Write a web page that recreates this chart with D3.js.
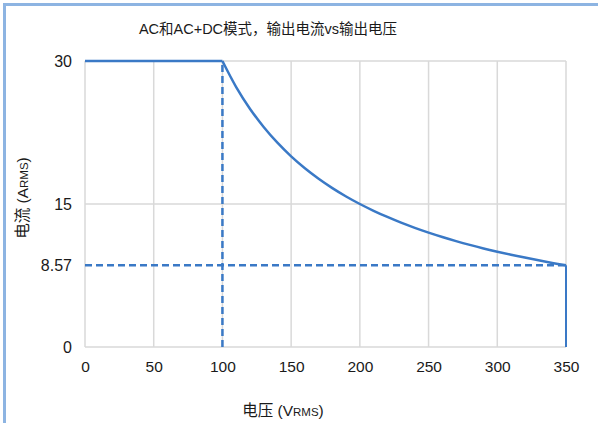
<!DOCTYPE html>
<html><head><meta charset="utf-8">
<script src="https://cdn.jsdelivr.net/npm/d3@7"></script>
<style>body{margin:0;background:#fff}svg{display:block}</style>
</head><body><svg id="c" width="598" height="423"></svg>
<script>
const title = "AC和AC+DC模式，输出电流vs输出电压";
const xTicks = [0, 50, 100, 150, 200, 250, 300, 350];
const yTicks = [0, 8.57, 15, 30];
const yGrid = [15, 30];
// constant-current section
const flatV = [0, 100];
const flatI = [30, 30];
// constant-power section
const curveV = [100,110,120,130,140,150,160,170,180,190,200,210,220,230,240,250,260,270,280,290,300,310,320,330,340,350];
const curveI = [30,27.27,25,23.08,21.43,20,18.75,17.65,16.67,15.79,15,14.29,13.64,13.04,12.5,12,11.54,11.11,10.71,10.34,10,9.68,9.38,9.09,8.82,8.57];
// drop at max voltage
const dropV = [350, 350];
const dropI = [8.57, 0];
// dashed reference lines
const refVx = [100, 100], refVy = [0, 30];
const refHx = [0, 350], refHy = [8.57, 8.57];

const svg = d3.select("#c");
const x = d3.scaleLinear().domain([0, 350]).range([85, 566]);
const y = d3.scaleLinear().domain([0, 30]).range([347, 61]);
const blue = "#3a79c6", grid = "#d9d9d9", txt = "#1a1a1a";
const fontMix = "Liberation Sans, Arial, Noto Sans CJK SC, sans-serif";

// frame (top and left edges)
svg.append("path").attr("d","M4.5,423 L4.5,4.5 L598,4.5").attr("fill","none").attr("stroke","#8db4e2").attr("stroke-width",3);

// grid
svg.append("g").selectAll("line").data(xTicks).join("line")
  .attr("x1",d=>x(d)).attr("x2",d=>x(d)).attr("y1",y(30)).attr("y2",y(0))
  .attr("stroke",grid).attr("stroke-width",1.5);
svg.append("g").selectAll("line").data([0].concat(yGrid)).join("line")
  .attr("x1",x(0)).attr("x2",x(350)).attr("y1",d=>y(d)).attr("y2",d=>y(d))
  .attr("stroke",grid).attr("stroke-width",1.5);

// axes labels
const xAxis = d3.axisBottom(x).tickValues(xTicks).tickSize(0).tickPadding(14).tickFormat(d3.format("d"));
const gx = svg.append("g").attr("transform",`translate(0,${y(0)})`).call(xAxis);
gx.select(".domain").remove();
gx.selectAll("text").attr("font-family","Liberation Sans, Arial, sans-serif").attr("font-size","15.5px").attr("fill",txt);

const yAxis = d3.axisLeft(y).tickValues(yTicks).tickSize(0).tickPadding(13).tickFormat(d=>d===8.57?"8.57":d3.format("d")(d));
const gy = svg.append("g").attr("transform",`translate(${x(0)},0)`).call(yAxis);
gy.select(".domain").remove();
gy.selectAll("text").attr("font-family","Liberation Sans, Arial, sans-serif").attr("font-size","16px").attr("fill",txt);

// lines
const mk = (c)=>d3.line().x(d=>x(d[0])).y(d=>y(d[1])).curve(c);
const zip = (a,b)=>a.map((v,i)=>[v,b[i]]);
const dash = "7,4";
svg.append("path").attr("d",mk(d3.curveLinear)(zip(refVx,refVy))).attr("fill","none").attr("stroke",blue).attr("stroke-width",2.5).attr("stroke-dasharray",dash);
svg.append("path").attr("d",mk(d3.curveLinear)(zip(refHx,refHy))).attr("fill","none").attr("stroke",blue).attr("stroke-width",2.5).attr("stroke-dasharray",dash);
svg.append("path").attr("d",mk(d3.curveLinear)(zip(flatV,flatI))).attr("fill","none").attr("stroke",blue).attr("stroke-width",2.5);
svg.append("path").attr("d",mk(d3.curveCatmullRom)(zip(curveV,curveI))).attr("fill","none").attr("stroke",blue).attr("stroke-width",2.5);
svg.append("path").attr("d",mk(d3.curveLinear)(zip(dropV,dropI))).attr("fill","none").attr("stroke",blue).attr("stroke-width",2);

// title
svg.append("text").attr("x",268).attr("y",34).attr("text-anchor","middle")
  .attr("font-family",fontMix).attr("font-size","14.5px").attr("fill",txt).text(title);

// axis titles
const xt = svg.append("text").attr("x",283).attr("y",416).attr("text-anchor","middle")
  .attr("font-family",fontMix).attr("font-size","15.5px").attr("fill",txt);
xt.append("tspan").text("电压 (V");
xt.append("tspan").attr("font-size","11.5px").text("RMS");
xt.append("tspan").text(")");

const yt = svg.append("text").attr("transform","translate(28,198) rotate(-90)").attr("text-anchor","middle")
  .attr("font-family",fontMix).attr("font-size","15.5px").attr("fill",txt);
yt.append("tspan").text("电流 (A");
yt.append("tspan").attr("font-size","11.5px").text("RMS");
yt.append("tspan").text(")");
</script></body></html>
